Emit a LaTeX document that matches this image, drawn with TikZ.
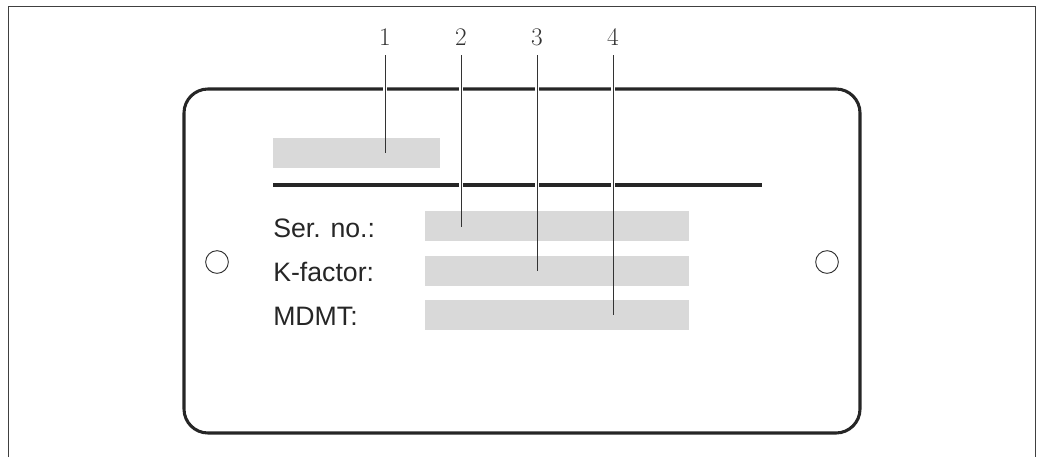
\documentclass[tikz,border=0pt]{standalone}
\usepackage{fontspec}
\newfontfamily\labelfont{Liberation Sans}
\begin{document}
\begin{tikzpicture}[x=0.75pt,y=-0.75pt,
  frameline/.style={draw=black!75, line width=1.1pt},
  plate/.style={draw=black!85, line width=2.3pt, rounded corners=18pt},
  field/.style={fill=black!15, draw=none},
  rule/.style={draw=black!85, line width=2.3pt},
  hole/.style={draw=black!80, line width=0.7pt, circle, minimum size=17pt, inner sep=0pt},
  fieldtext/.style={anchor=base west, font=\labelfont\fontsize{20pt}{24pt}\selectfont, text=black!85, inner sep=0pt},
  num/.style={anchor=center, font=\fontsize{19pt}{22pt}\selectfont, text=black!80, inner sep=0pt},
  halo/.style={draw=white, line width=2.6pt},
  leader/.style={draw=black!80, line width=0.65pt}
]
\useasboundingbox (0,0) rectangle (1037,457);
% outer frame, open at the bottom
\draw[frameline] (8.5,457) -- (8.5,6.5) -- (1035.5,6.5) -- (1035.5,457);
% plate
\draw[plate] (184,89) rectangle (860,433);
\coordinate (ruleL) at (273,185);
\coordinate (ruleR) at (762,185);
\draw[rule] (ruleL) -- (ruleR);
% numbers and leader end points
\node[num] (n1) at (385,37) {1};
\node[num] (n2) at (461,37) {2};
\node[num] (n3) at (537,37) {3};
\node[num] (n4) at (613,37) {4};
\coordinate (s1) at (385,55);
\coordinate (s2) at (461,55);
\coordinate (s3) at (537,55);
\coordinate (s4) at (613,55);
\coordinate (e1) at (385,153);
\coordinate (e2) at (461,227);
\coordinate (e3) at (537,271);
\coordinate (e4) at (613,315);
% white halos where leaders cross the plate edge and the rule
\draw[halo] (s1) -- (e1);
\draw[halo] (s2) -- (e2);
\draw[halo] (s3) -- (e3);
\draw[halo] (s4) -- (e4);
% fields
\fill[field] (273,138) rectangle (440,168);
\fill[field] (425,211) rectangle (689,241);
\fill[field] (425,256) rectangle (689,286);
\fill[field] (425,300) rectangle (689,330);
% holes
\node[hole] (holeL) at (217,262) {};
\node[hole] (holeR) at (827,262) {};
% texts
\node[fieldtext] (ser) at (273,237) {Ser. no.:};
\node[fieldtext] (kf) at (273,281.5) {K-factor:};
\node[fieldtext] (md) at (273,325.5) {MDMT:};
% leaders
\draw[leader] (s1) -- (e1);
\draw[leader] (s2) -- (e2);
\draw[leader] (s3) -- (e3);
\draw[leader] (s4) -- (e4);
\end{tikzpicture}
\end{document}
